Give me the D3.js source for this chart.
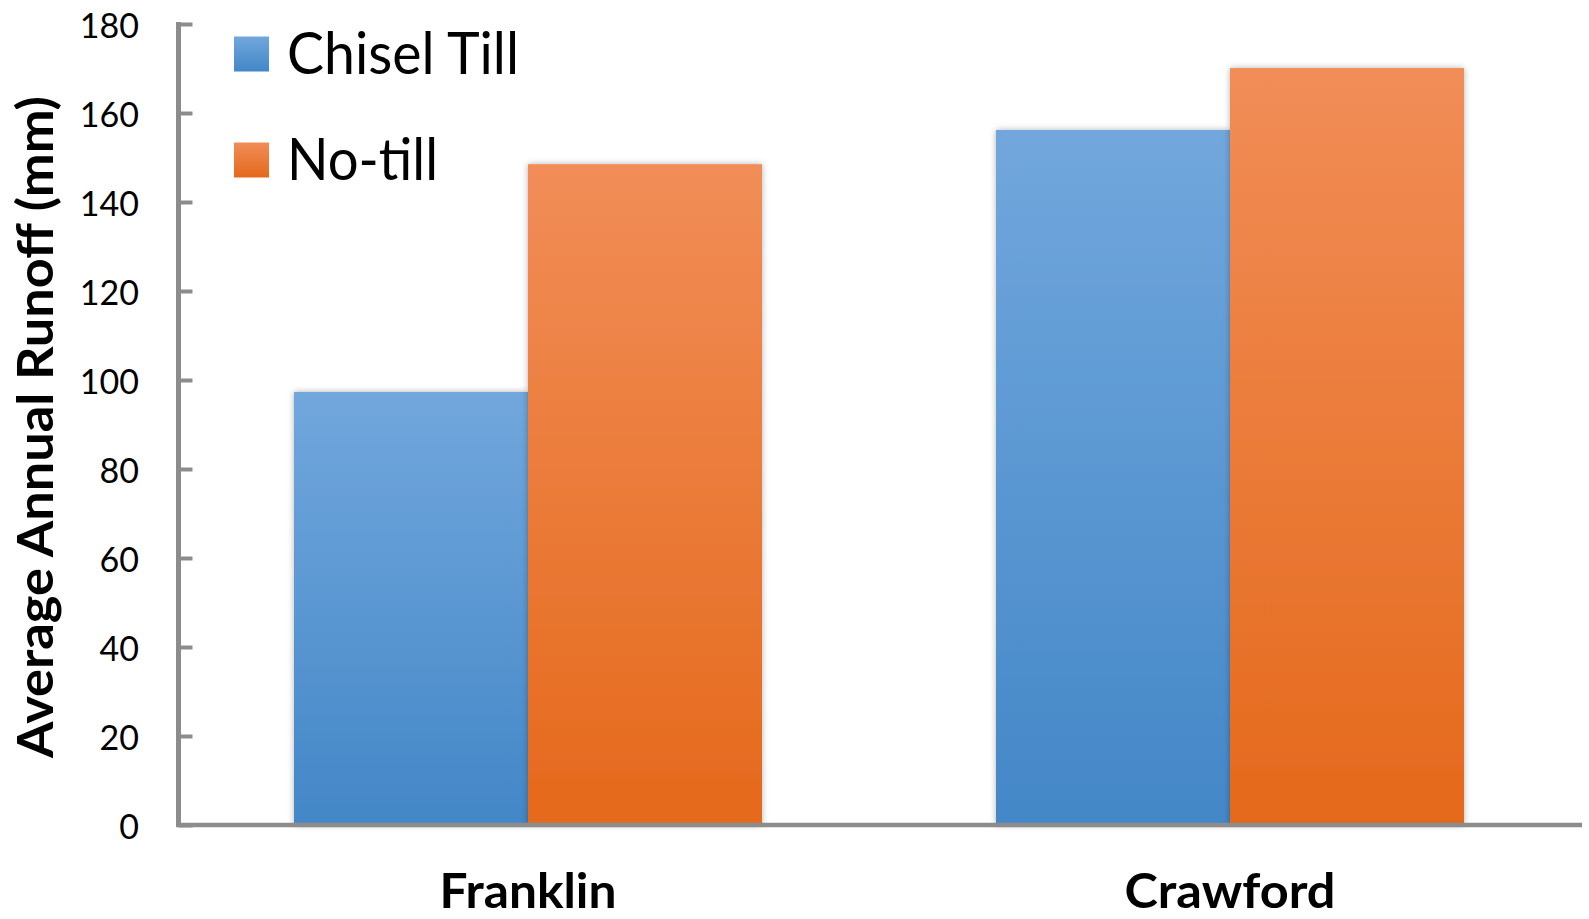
<!DOCTYPE html>
<html><head><meta charset="utf-8">
<script src="https://cdn.jsdelivr.net/npm/d3@7"></script>
<style>html,body{margin:0;padding:0;background:#fff;}svg{display:block;}</style>
</head><body>
<svg id="chart" width="1589" height="919"></svg>
<script>
const categories = ["Franklin", "Crawford"];
const seriesNames = ["Chisel Till", "No-till"];
const chiselTill = [97.3, 156.2];
const noTill = [148.5, 170.1];
const yTicks = [0, 20, 40, 60, 80, 100, 120, 140, 160, 180];
const yTitle = "Average Annual Runoff (mm)";

const seriesValues = [chiselTill, noTill];
const colors = [
  {top: "#71a7dc", bottom: "#4387c7"},
  {top: "#f18d57", bottom: "#e4691b"}
];

const svg = d3.select("#chart");
const defs = svg.append("defs");
colors.forEach((c, i) => {
  const g = defs.append("linearGradient").attr("id", "grad" + i)
    .attr("x1", 0).attr("y1", 0).attr("x2", 0).attr("y2", 1);
  g.append("stop").attr("offset", "0%").attr("stop-color", c.top);
  g.append("stop").attr("offset", "100%").attr("stop-color", c.bottom);
});
const f = defs.append("filter").attr("id", "shadow")
  .attr("x", "-10%").attr("y", "-5%").attr("width", "120%").attr("height", "110%");
f.append("feDropShadow").attr("dx", 0).attr("dy", 0).attr("stdDeviation", 3)
  .attr("flood-color", "#000").attr("flood-opacity", 0.3);

const x0 = d3.scaleBand().domain(categories).range([177, 1581])
  .paddingInner(1/3).paddingOuter(1/6);
const x1 = d3.scaleBand().domain(d3.range(seriesNames.length)).range([0, x0.bandwidth()]);
const y = d3.scaleLinear().domain([0, 180]).range([825, 24]);

// bars
const groups = svg.append("g").selectAll("g").data(categories).join("g")
  .attr("transform", d => `translate(${x0(d)},0)`);
groups.selectAll("rect")
  .data((d, ci) => seriesValues.map((vals, si) => ({si, v: vals[ci]})))
  .join("rect")
  .attr("x", d => x1(d.si))
  .attr("y", d => y(d.v))
  .attr("width", x1.bandwidth())
  .attr("height", d => y(0) - y(d.v))
  .attr("fill", d => `url(#grad${d.si})`)
  .attr("filter", "url(#shadow)");

// axes
const axisColor = "#8c8c8c";
const yAxis = d3.axisRight(y).tickValues(yTicks).tickSize(14).tickFormat("");
const ya = svg.append("g").attr("transform", "translate(178.5,0)").call(yAxis);
ya.select(".domain").attr("stroke", axisColor).attr("stroke-width", 5)
  .attr("d", `M0,${y(180)-2}V${y(0)+2}`);
ya.selectAll(".tick line").attr("stroke", axisColor).attr("stroke-width", 4);

svg.append("line").attr("x1", 176).attr("x2", 1582)
  .attr("y1", y(0)).attr("y2", y(0))
  .attr("stroke", axisColor).attr("stroke-width", 4.5);

// tick labels
svg.append("g").selectAll("text").data(yTicks).join("text")
  .attr("x", 139).attr("y", d => y(d))
  .attr("text-anchor", "end").attr("dominant-baseline", "central")
  .attr("font-family", "Lato, sans-serif").attr("font-size", 34).attr("fill", "#000")
  .text(d => d);

// category labels
const catWidths = [177, 211];
svg.append("g").selectAll("text").data(categories).join("text")
  .attr("x", d => x0(d) + x0.bandwidth() / 2).attr("y", 908)
  .attr("text-anchor", "middle")
  .attr("font-family", "Lato, sans-serif").attr("font-weight", "bold")
  .attr("font-size", 47).attr("fill", "#000")
  .attr("textLength", (d, i) => catWidths[i]).attr("lengthAdjust", "spacingAndGlyphs")
  .text(d => d);

// y title
svg.append("text")
  .attr("transform", "translate(53,427) rotate(-90)")
  .attr("text-anchor", "middle")
  .attr("font-family", "Lato, sans-serif").attr("font-weight", "bold")
  .attr("font-size", 50).attr("fill", "#000")
  .attr("textLength", 662).attr("lengthAdjust", "spacingAndGlyphs")
  .text(yTitle);

// legend
const legendY = d3.scalePoint().domain(seriesNames).range([54, 160]);
const legWidths = [232, 151];
const lg = svg.append("g").selectAll("g").data(seriesNames).join("g")
  .attr("transform", d => `translate(0,${legendY(d)})`);
lg.append("rect").attr("x", 234).attr("y", -17.5).attr("width", 35).attr("height", 35)
  .attr("fill", (d, i) => `url(#grad${i})`);
lg.append("text").attr("x", 287).attr("y", 20)
  .attr("font-family", "Lato, sans-serif").attr("font-size", 58).attr("fill", "#000")
  .attr("textLength", (d, i) => legWidths[i]).attr("lengthAdjust", "spacingAndGlyphs")
  .text(d => d);
</script>
</body></html>
